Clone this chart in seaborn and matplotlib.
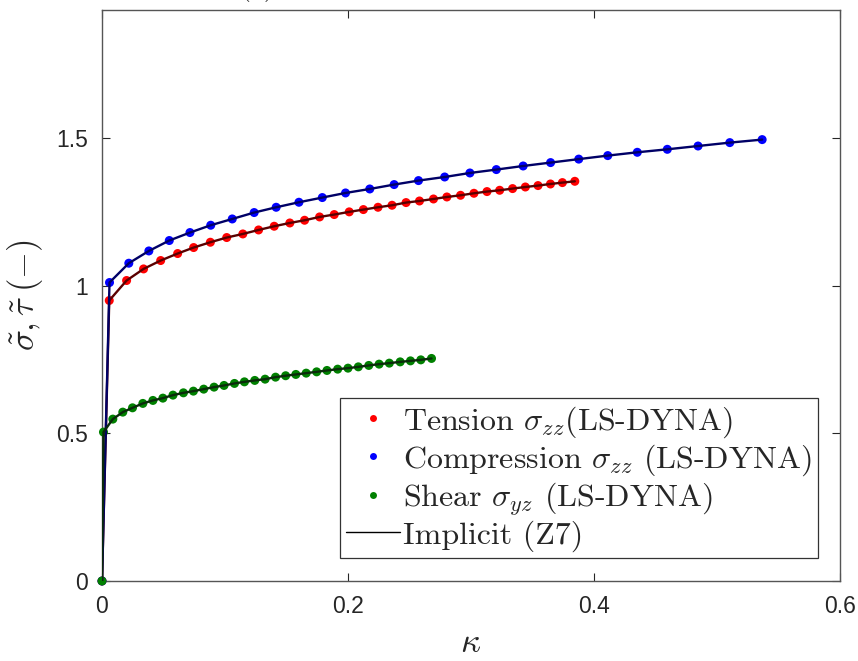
import numpy as np
import pandas as pd
import matplotlib
matplotlib.use("Agg")
import matplotlib.pyplot as plt
from matplotlib.lines import Line2D
import seaborn as sns

# ---------------- data ----------------
tension_k = [0.0, 0.0059, 0.0200, 0.0338, 0.0477, 0.0615, 0.0745, 0.0881, 0.1014, 0.1145,
             0.1273, 0.1400, 0.1527, 0.1647, 0.1769, 0.1888, 0.2010, 0.2125, 0.2244, 0.2358,
             0.2472, 0.2581, 0.2695, 0.2804, 0.2915, 0.3024, 0.3130, 0.3233, 0.3338, 0.3442,
             0.3545, 0.3646, 0.3743, 0.3844]
tension_s = [0.0, 0.9506, 1.0183, 1.0576, 1.0860, 1.1097, 1.1300, 1.1480, 1.1639, 1.1761,
             1.1896, 1.2022, 1.2133, 1.2225, 1.2337, 1.2418, 1.2509, 1.2587, 1.2665, 1.2733,
             1.2824, 1.2878, 1.2946, 1.3014, 1.3071, 1.3139, 1.3197, 1.3241, 1.3298, 1.3352,
             1.3400, 1.3454, 1.3501, 1.3545]

compression_k = [0.0, 0.0061, 0.0218, 0.0381, 0.0547, 0.0715, 0.0884, 0.1059, 0.1237, 0.1416,
                 0.1601, 0.1791, 0.1980, 0.2177, 0.2375, 0.2573, 0.2786, 0.2991, 0.3206, 0.3424,
                 0.3647, 0.3876, 0.4112, 0.4352, 0.4596, 0.4846, 0.5104, 0.5367]
compression_s = [0.0, 1.0115, 1.0769, 1.1185, 1.1538, 1.1808, 1.2056, 1.2269, 1.2486, 1.2665,
                 1.2835, 1.2994, 1.3150, 1.3285, 1.3434, 1.3569, 1.3691, 1.3827, 1.3942, 1.4064,
                 1.4179, 1.4297, 1.4416, 1.4528, 1.4629, 1.4741, 1.4856, 1.4958]

shear_k = [0.0, 0.0012, 0.0088, 0.0169, 0.0248, 0.0332, 0.0414, 0.0495, 0.0577, 0.0662,
           0.0743, 0.0827, 0.0911, 0.0992, 0.1077, 0.1158, 0.1242, 0.1326, 0.1411, 0.1493,
           0.1576, 0.1660, 0.1745, 0.1829, 0.1916, 0.2000, 0.2084, 0.2169, 0.2253, 0.2336,
           0.2424, 0.2508, 0.2592, 0.2679]
shear_s = [0.0, 0.5046, 0.5486, 0.5723, 0.5869, 0.6018, 0.6119, 0.6197, 0.6299, 0.6377,
           0.6434, 0.6502, 0.6570, 0.6627, 0.6695, 0.6749, 0.6797, 0.6840, 0.6908, 0.6956,
           0.7000, 0.7044, 0.7088, 0.7135, 0.7179, 0.7213, 0.7257, 0.7305, 0.7349, 0.7383,
           0.7426, 0.7460, 0.7494, 0.7542]

x_ticks = [0, 0.2, 0.4, 0.6]
x_tick_labels = ["0", "0.2", "0.4", "0.6"]
y_ticks = [0, 0.5, 1, 1.5]
y_tick_labels = ["0", "0.5", "1", "1.5"]

legend_labels = [r"Tension $\sigma_{zz}$(LS-DYNA)",
                 r"Compression $\sigma_{zz}$ (LS-DYNA)",
                 r"Shear $\sigma_{yz}$ (LS-DYNA)",
                 "Implicit (Z7)"]

# ---------------- style ----------------
sns.set_style("ticks")
plt.rcParams["font.family"] = ["Liberation Sans", "DejaVu Sans"]
plt.rcParams["mathtext.fontset"] = "cm"
plt.rcParams["axes.unicode_minus"] = False

fig = plt.figure(figsize=(8.58, 6.61), dpi=100)
ax = fig.add_axes([102 / 858, 80 / 661, 738 / 858, 571 / 661])

series = [
    (tension_k, tension_s, "#ff0000", "#5a0000"),
    (compression_k, compression_s, "#0000ff", "#000066"),
    (shear_k, shear_s, "#008000", "#0b2a0b"),
]

for k, s, mcol, lcol in series:
    df = pd.DataFrame({"k": k, "s": s})
    sns.scatterplot(data=df, x="k", y="s", ax=ax, color=mcol, s=42,
                    edgecolor="none", linewidth=0, zorder=4, legend=False,
                    clip_on=False)
    sns.lineplot(data=df, x="k", y="s", ax=ax, color=lcol, lw=1.7,
                 sort=False, estimator=None, zorder=5, legend=False)

ax.set_xlim(0, 0.6)
ax.set_ylim(0, 1.935)
ax.set_xticks(x_ticks)
ax.set_xticklabels(x_tick_labels)
ax.set_yticks(y_ticks)
ax.set_yticklabels(y_tick_labels)
ax.tick_params(direction="in", length=6, width=0.8, top=True, right=True,
               labelsize=16.5, labelcolor="#262626", color="#262626", pad=10)
for sp in ax.spines.values():
    sp.set_color("#555555")
    sp.set_linewidth(1.0)
    sp.set_zorder(3)

ax.set_xlabel(r"$\kappa$", fontsize=25, labelpad=6)
ax.set_ylabel(r"$\tilde{\sigma},\tilde{\tau}\;(-)$", fontsize=25, labelpad=8)

handles = [
    Line2D([], [], ls="none", marker="o", ms=5, color="#ff0000", mec="none"),
    Line2D([], [], ls="none", marker="o", ms=5, color="#0000ff", mec="none"),
    Line2D([], [], ls="none", marker="o", ms=5, color="#008000", mec="none"),
    Line2D([], [], color="black", lw=1.0),
]
leg = ax.legend(handles, legend_labels, loc="lower right",
                bbox_to_anchor=(0.970, 0.040), frameon=True, fancybox=False,
                framealpha=1, edgecolor="#333333", borderpad=0.2,
                labelspacing=0.08, handlelength=1.7, handletextpad=0.08,
                borderaxespad=0,
                prop={"family": "cmr10", "size": 23})
leg.get_frame().set_linewidth(0.9)
leg.set_zorder(10)

fig.text(0.30, 0.997, "(a)", fontsize=20, family="cmr10", va="bottom", ha="center")

fig.savefig("out.png", dpi=100)
